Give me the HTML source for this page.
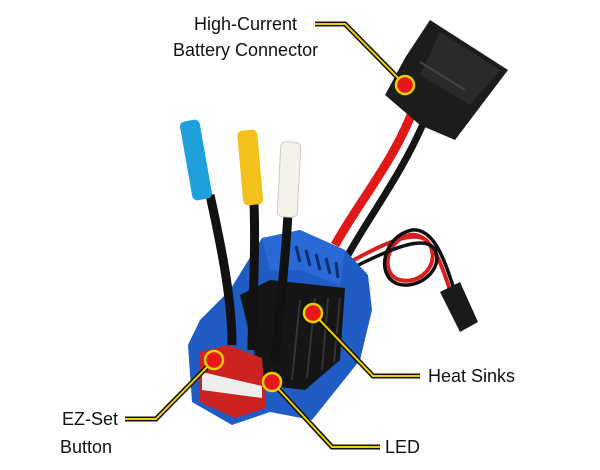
<!DOCTYPE html>
<html><head><meta charset="utf-8"><style>
html,body{margin:0;padding:0;background:#fff;}
svg{display:block;}
text{font-family:"Liberation Sans",sans-serif;font-size:18px;fill:#111;}
</style></head><body>
<svg width="600" height="470" viewBox="0 0 600 470">
<!-- battery wires -->
<path d="M415 105 C395 160 360 200 335 245" stroke="#e01818" stroke-width="9" fill="none"/>
<path d="M428 112 C405 170 370 215 348 255" stroke="#151515" stroke-width="7" fill="none"/>
<!-- battery connector -->
<polygon points="430,20 508,70 455,140 420,125 385,95 405,58" fill="#1c1c1c"/>
<polygon points="440,32 500,70 470,105 420,75" fill="#2a2a2a"/>
<line x1="420" y1="62" x2="465" y2="90" stroke="#444" stroke-width="2"/>
<!-- servo wires loop -->
<path d="M345 265 C380 245 420 225 430 245 C440 265 420 285 400 280 C380 275 385 240 410 235 C430 232 440 260 450 290" stroke="#d82020" stroke-width="4" fill="none"/>
<path d="M348 270 C385 252 425 232 435 250 C444 270 418 290 398 284 C375 276 383 236 412 230 C435 228 445 262 455 292" stroke="#111" stroke-width="3.5" fill="none"/>
<polygon points="440,292 460,282 478,322 460,332" fill="#1a1a1a"/>
<!-- ESC body -->
<polygon points="188,345 200,320 230,290 262,238 300,230 345,250 368,275 372,310 360,360 312,420 270,412 232,425 192,402" fill="#1f5cc4"/>
<polygon points="262,238 300,230 345,250 340,285 300,270 270,270" fill="#2a6ad6"/>
<g stroke="#0b2f70" stroke-width="3">
<line x1="296" y1="246" x2="300" y2="262"/><line x1="306" y1="250" x2="310" y2="266"/><line x1="316" y1="254" x2="320" y2="270"/><line x1="326" y1="258" x2="330" y2="274"/><line x1="336" y1="262" x2="338" y2="278"/>
</g>
<polygon points="240,295 270,280 345,288 340,360 305,390 262,385" fill="#151515"/>
<g stroke="#333" stroke-width="2"><line x1="300" y1="300" x2="292" y2="380"/><line x1="315" y1="298" x2="307" y2="378"/><line x1="328" y1="298" x2="322" y2="370"/><line x1="340" y1="298" x2="334" y2="362"/></g>
<polygon points="200,352 228,345 262,358 266,408 235,418 200,402" fill="#c22"/>
<polygon points="202,372 262,386 262,398 202,390" fill="#eee"/>
<!-- motor wires -->
<path d="M210 195 C222 250 232 300 232 345" stroke="#111" stroke-width="9" fill="none"/>
<path d="M254 203 C256 260 252 310 252 350" stroke="#111" stroke-width="9" fill="none"/>
<path d="M288 213 C285 270 278 320 275 362" stroke="#111" stroke-width="9" fill="none"/>
<!-- bullet connectors -->
<rect x="186" y="120" width="20" height="80" rx="5" fill="#1ea0dc" transform="rotate(-10 196 160)"/>
<rect x="240" y="130" width="20" height="75" rx="5" fill="#f2c21a" transform="rotate(-5 250 165)"/>
<rect x="279" y="142" width="20" height="75" rx="5" fill="#f4f2ea" stroke="#ccc" transform="rotate(3 289 180)"/>
<!-- leader lines -->
<g fill="none" stroke-linejoin="miter">
<g stroke="#111" stroke-width="5">
<polyline points="315,24 345,24 405,85"/>
<polyline points="313,313 373,376 420,376"/>
<polyline points="214,360 156,419 125,419"/>
<polyline points="272,382 332,447 380,447"/>
</g>
<g stroke="#f0d000" stroke-width="2">
<polyline points="315,24 345,24 405,85"/>
<polyline points="313,313 373,376 420,376"/>
<polyline points="214,360 156,419 125,419"/>
<polyline points="272,382 332,447 380,447"/>
</g>
</g>
<g fill="#e81818" stroke="#e8d000" stroke-width="2.5">
<circle cx="405" cy="85" r="9"/>
<circle cx="313" cy="313" r="9"/>
<circle cx="214" cy="360" r="9"/>
<circle cx="272" cy="382" r="9"/>
</g>
<text x="194" y="30">High-Current</text>
<text x="173" y="56">Battery Connector</text>
<text x="428" y="382">Heat Sinks</text>
<text x="62" y="425">EZ-Set</text>
<text x="60" y="453">Button</text>
<text x="385" y="453">LED</text>
</svg>
</body></html>
